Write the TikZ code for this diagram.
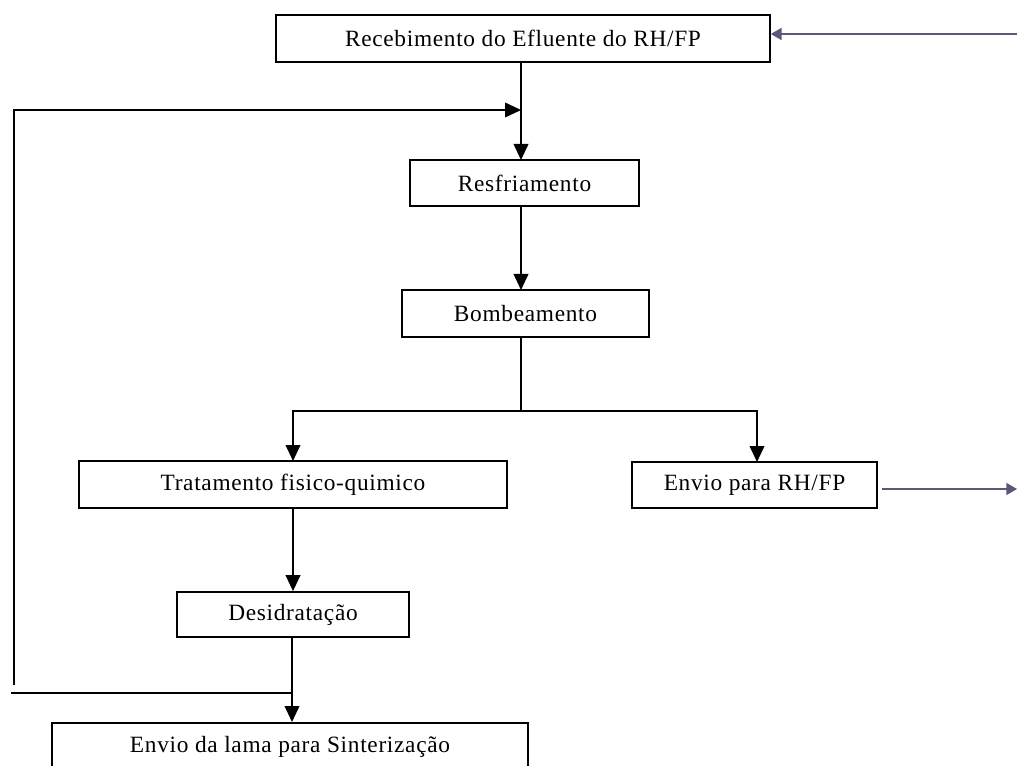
\documentclass[tikz,border=0pt]{standalone}
\usepackage{fontspec}
\setmainfont{Liberation Serif}[LetterSpace=3]
\usetikzlibrary{arrows.meta}
\definecolor{greyblue}{RGB}{88,88,120}
\tikzset{
  box/.style={draw=black, line width=1.3pt, rectangle, inner sep=0pt, font=\fontsize{17.5}{20}\selectfont},
  flow/.style={draw=black, line width=1.3pt, -{Triangle[width=11pt,length=12pt]}},
  plain/.style={draw=black, line width=1.3pt},
  ext/.style={draw=greyblue, line width=1.2pt, -{Triangle[width=9pt,length=8pt]}}
}
\begin{document}
\begin{tikzpicture}[x=0.75pt,y=-0.75pt]
\clip (0,0) rectangle (1017,766);
\useasboundingbox (0,0) rectangle (1017,766);
\fill[white] (0,0) rectangle (1017,766);
\node[box, minimum width=370.5pt, minimum height=35.25pt] (rec) at (523,38.5) {Recebimento do Efluente do RH/FP};
\node[box, minimum width=171.75pt, minimum height=34.5pt] (res) at (524.5,183) {Resfriamento};
\node[box, minimum width=185.25pt, minimum height=35.25pt] (bom) at (525.5,313.5) {\raisebox{-4pt}{Bombeamento}};
\node[box, minimum width=321pt, minimum height=35.25pt] (trat) at (293,484.5) {\raisebox{-2pt}{Tratamento fisico-quimico}};
\node[box, minimum width=183.75pt, minimum height=34.5pt] (envrh) at (754.5,485) {Envio para RH/FP};
\node[box, minimum width=174pt, minimum height=33.75pt] (des) at (293,614.5) {Desidratação};
\node[box, minimum width=357pt, minimum height=36pt, anchor=north] (lama) at (290,722) {\raisebox{-5pt}{Envio da lama para Sinterização}};

\coordinate (inR) at (1017,34);
\coordinate (outR) at (1017,489);
\coordinate (loopJ) at (521,110);
\coordinate (split) at (521,411);
\coordinate (botJ) at (292,693);
\coordinate (botL) at (11,693);
\coordinate (loopB) at (14,685);
\coordinate (loopT) at (14,110);

% external connections
\draw[ext] (inR) -- (rec.east |- inR);
\draw[ext] (envrh.east |- outR) ++(4,0) -- (outR);

% main chain
\draw[flow] (521,62) -- (521,160);
\draw[flow] (res.south -| 521,0) -- (521,290);
\draw[plain] (bom.south -| 521,0) -- (split);
\draw[flow] (split) -| (293,461);
\draw[flow] (split) -| (757,462);
\draw[flow] (trat.south) -- (des.north);
\draw[flow] (des.south -| botJ) -- (lama.north -| botJ);

% recycle loop
\draw[plain] (botJ) -- (botL);
\draw[flow] (loopB) -- (loopT) -- (loopJ);
\end{tikzpicture}
\end{document}
